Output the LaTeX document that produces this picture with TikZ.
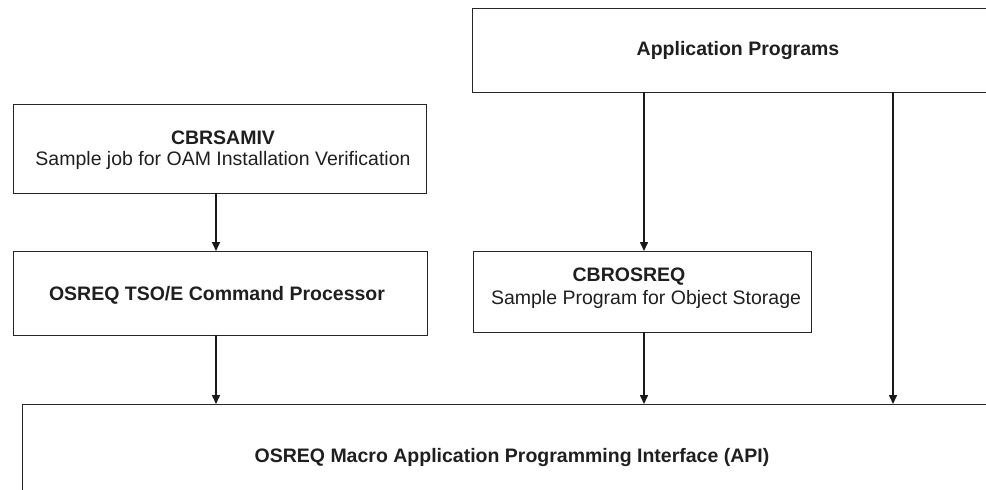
\documentclass[tikz,border=0pt]{standalone}
\usepackage{fontspec}
\setmainfont{Liberation Sans}
\usetikzlibrary{arrows.meta}
\begin{document}
\begin{tikzpicture}[x=1pt,y=-1pt,
  boxline/.style={draw=black!85,line width=0.9pt},
  arr/.style={line width=1.5pt,black!90,-{Triangle[length=9pt,width=8pt]}},
  lbl/.style={inner sep=0pt,font=\fontsize{19.5}{22}\selectfont\bfseries,text=black!88},
  sub/.style={inner sep=0pt,font=\fontsize{19.5}{22}\selectfont,text=black!88}]
\useasboundingbox (0,0) rectangle (986,490);
\clip (0,0) rectangle (986,490);
% boxes
\draw[boxline] (472,8) rectangle (1010,92);
\draw[boxline] (13,104) rectangle (426,193);
\draw[boxline] (13,251) rectangle (427,335);
\draw[boxline] (473,251) rectangle (811,332);
\draw[boxline] (22,500) -- (22,404) -- (1000,404);
% anchors
\coordinate (appL) at (644,92);
\coordinate (appR) at (893,92);
\coordinate (samB) at (216,193);
\coordinate (tsoT) at (216,251);
\coordinate (tsoB) at (216,335);
\coordinate (cbrT) at (644,251);
\coordinate (cbrB) at (644,332);
\coordinate (apiA) at (216,404);
\coordinate (apiB) at (644,404);
\coordinate (apiC) at (893,404);
% texts
\node[lbl] (app) at (738,50) {Application Programs};
\node[lbl] (sam) at (223,138) {CBRSAMIV};
\node[sub] (samd) at (223,160) {Sample job for OAM Installation Verification};
\node[lbl] (tso) at (217,295) {OSREQ TSO/E Command Processor};
\node[lbl] (cbr) at (629,277) {CBROSREQ};
\node[sub] (cbrd) at (646,299) {Sample Program for Object Storage};
\node[lbl] (api) at (512,457) {OSREQ Macro Application Programming Interface (API)};
% arrows
\draw[arr] (samB) -- (tsoT);
\draw[arr] (appL) -- (cbrT);
\draw[arr] (tsoB) -- (apiA);
\draw[arr] (cbrB) -- (apiB);
\draw[arr] (appR) -- (apiC);
\end{tikzpicture}
\end{document}
